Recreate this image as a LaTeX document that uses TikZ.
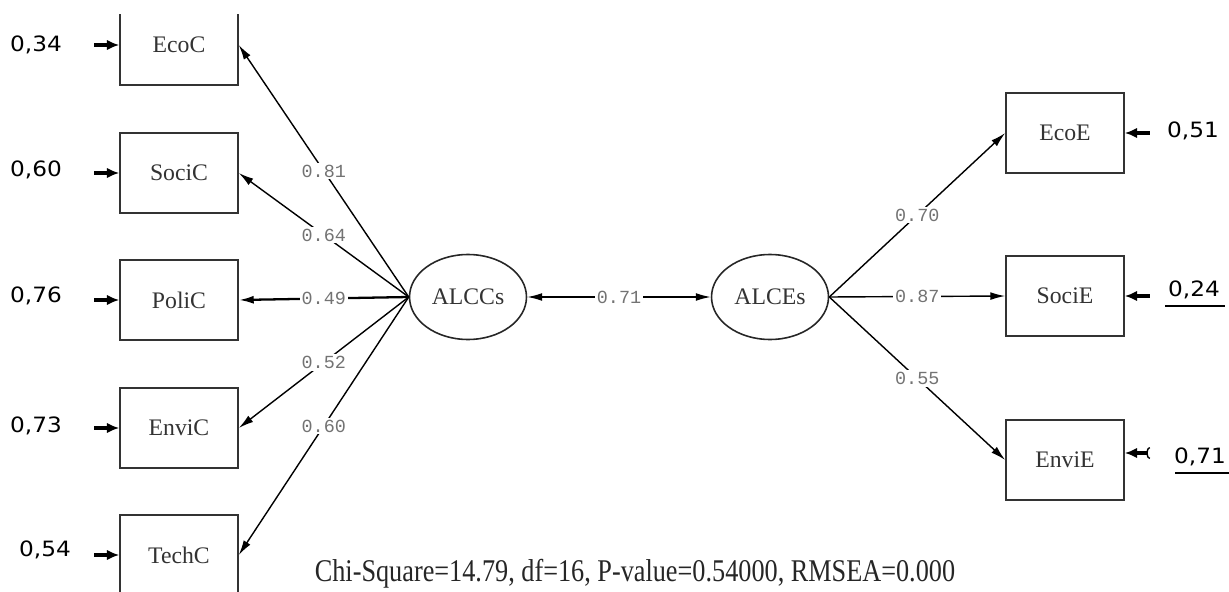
\documentclass[tikz,border=0pt]{standalone}
\usepackage{fontspec}
\setmainfont{Liberation Serif}
\newfontfamily\errfont{DejaVu Sans}
\newfontfamily\coeffont{Liberation Mono}
\usetikzlibrary{arrows.meta,shapes.geometric}
\tikzset{
  obs/.style={draw=black!80, line width=0.9pt, minimum width=2.36cm, minimum height=1.6cm, inner sep=0pt, font=\fontsize{13.5}{15}\selectfont, text=black!80},
  lat/.style={ellipse, draw=black!85, line width=0.9pt, minimum width=2.34cm, minimum height=1.7cm, inner sep=0pt, font=\fontsize{13.5}{15}\selectfont, text=black!80},
  load/.style={line width=0.8pt, -{Latex[length=8.5pt,width=4.5pt]}},
  coef/.style={fill=white, inner sep=1pt, text=black!55, font=\coeffont\fontsize{10.5}{12}\selectfont},
  err/.style={line width=1.8pt, -{Latex[length=7pt,width=6pt]}},
  errval/.style={font=\errfont\fontsize{12}{14}\selectfont, xscale=1.1, inner sep=0pt},
}
\begin{document}
\begin{tikzpicture}[x=0.02cm, y=-0.02cm]
  \useasboundingbox (0,0) rectangle (1229,591);

  % observed variables, left side (cut by the page edge)
  \begin{scope}
    \clip (0,15) rectangle (1229,591);
    \node[obs] (ecoC)  at (179,45)  {EcoC};
    \node[obs] (sociC) at (179,173) {SociC};
    \node[obs] (poliC) at (179,300) {PoliC};
    \node[obs] (enviC) at (179,428) {EnviC};
    \node[obs] (techC) at (179,555) {TechC};
  \end{scope}

  % latent variables
  \node[lat] (alccs) at (468,297) {ALCCs};
  \node[lat] (alces) at (770,297) {ALCEs};

  % observed variables, right side
  \node[obs] (ecoE)  at (1065,133) {EcoE};
  \node[obs] (sociE) at (1065,296) {SociE};
  \node[obs] (enviE) at (1065,460) {EnviE};

  % loadings
  \draw[load] (alccs.west) -- node[coef] {0.81} (ecoC.east);
  \draw[load] (alccs.west) -- node[coef] {0.64} (sociC.east);
  \draw[load, line width=1.3pt] (alccs.west) -- node[coef] {0.49} (poliC.east);
  \draw[load] (alccs.west) -- node[coef] {0.52} (enviC.east);
  \draw[load] (alccs.west) -- node[coef] {0.60} (techC.east);

  \draw[load] (alces.east) -- node[coef] {0.70} (ecoE.west);
  \draw[load] (alces.east) -- node[coef] {0.87} (sociE.west);
  \draw[load] (alces.east) -- node[coef] {0.55} (enviE.west);

  \draw[load, {Latex[length=8.5pt,width=4.5pt]}-{Latex[length=8.5pt,width=4.5pt]}] (alccs) -- node[coef] {0.71} (alces);

  % error terms
  \node[errval] (e1) at (36,45)  {0,34};
  \node[errval] (e2) at (36,170) {0,60};
  \node[errval] (e3) at (36,296) {0,76};
  \node[errval] (e4) at (36,426) {0,73};
  \node[errval] (e5) at (45,550) {0,54};
  \draw[err] ([xshift=-0.5cm]ecoC.west) -- (ecoC.west);
  \draw[err] ([xshift=-0.5cm]sociC.west) -- (sociC.west);
  \draw[err] ([xshift=-0.5cm]poliC.west) -- (poliC.west);
  \draw[err] ([xshift=-0.5cm]enviC.west) -- (enviC.west);
  \draw[err] ([xshift=-0.5cm]techC.west) -- (techC.west);

  \node[errval] (e6) at (1193,131) {0,51};
  \node[errval] (e7) at (1194,290) {0,24};
  \node[errval] (e8) at (1200,457) {0,71};
  \draw[err] ([xshift=0.5cm]ecoE.east) -- (ecoE.east);
  \draw[err] ([xshift=0.5cm]sociE.east) -- (sociE.east);
  \draw[err, {Arc Barb[reversed,length=2pt,width=7pt,line width=0.8pt]}-{Latex[length=7pt,width=6pt]}] ([xshift=0.5cm,yshift=0.14cm]enviE.east) -- ([yshift=0.14cm]enviE.east);
  \draw[line width=0.7pt] (1165,306) -- (1225,306);
  \draw[line width=0.7pt] (1175,473) -- (1229,473);

  % fit indices
  \node[font=\fontsize{18}{20}\selectfont, xscale=0.83, text=black!85] (fit) at (635,574) {Chi-Square=14.79, df=16, P-value=0.54000, RMSEA=0.000};
\end{tikzpicture}
\end{document}
